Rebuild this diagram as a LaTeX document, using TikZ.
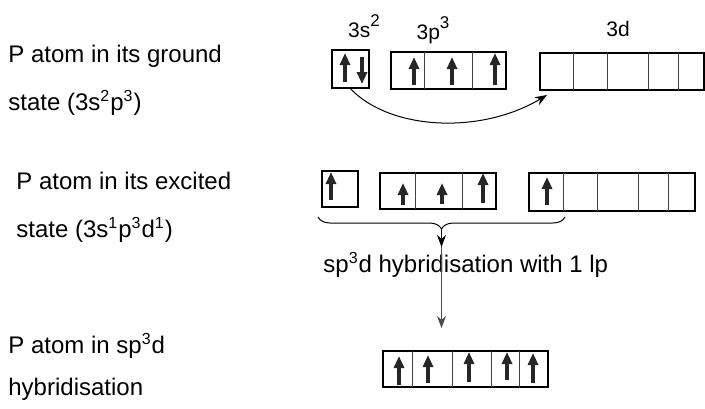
\documentclass[tikz,border=0pt]{standalone}
\usepackage{fontspec}
\setmainfont{Liberation Sans}
\usetikzlibrary{arrows.meta, decorations.pathreplacing, fit}

\newcommand{\hisup}[1]{\raisebox{0.5em}{\fontsize{8.5}{10}\selectfont #1}}

\tikzset{
  orb/.style={draw, line width=0.75pt, inner sep=0pt},
  cellline/.style={line width=0.5pt, black!75},
  spin/.style={line width=1.6pt, black!85, -{Triangle[length=6pt, width=5pt]}},
  conn/.style={line width=0.5pt, -{Stealth[length=6pt, width=4.5pt]}},
  lbl/.style={anchor=base west, inner sep=0pt, font=\fontsize{12}{14}\selectfont},
  shell/.style={anchor=base, inner sep=0pt, font=\fontsize{10.5}{12}\selectfont}
}

\begin{document}
\begin{tikzpicture}[x=0.5pt, y=-0.5pt]
    \useasboundingbox (0,0) rectangle (705,408);

    % Left hand labels
    \node[lbl] (gs1) at (8,62) {P atom in its ground};
    \node[lbl] (gs2) at (8,110) {state (3s\textsuperscript{2}p\textsuperscript{3})};
    \node[lbl] (ex1) at (16,189) {P atom in its excited};
    \node[lbl] (ex2) at (16,237) {state (3s\textsuperscript{1}p\textsuperscript{3}d\textsuperscript{1})};
    \node[lbl] (hy1) at (8,353) {P atom in sp\textsuperscript{3}d};
    \node[lbl] (hy2) at (8,395) {hybridisation};

    % Subshell labels
    \node[shell] (l3s) at (364,37) {3s\hisup{2}};
    \node[shell] (l3p) at (433,39) {3p\hisup{3}};
    \node[shell] (l3d) at (618,36) {3d};

    % Ground state boxes
    \node[orb, fit={(332,50) (369,88)}] (s1) {};
    \node[orb, fit={(391,52) (506,89)}] (p1) {};
    \node[orb, fit={(540,53) (704,90)}] (d1) {};
    \draw[cellline] (424,52) -- (424,89);
    \draw[cellline] (472,52) -- (472,89);
    \foreach \x in {573,607,648,678}
        \draw[cellline] (\x,53) -- (\x,90);
    \draw[spin] (345,82) -- (345,53);
    \draw[spin] (362,57) -- (362,84);
    \draw[spin] (414,85) -- (414,57);
    \draw[spin] (452,85) -- (452,57);
    \draw[spin] (495,85) -- (495,53);

    % Promotion of one 3s electron
    \coordinate (dtip) at (547,95);
    \draw[conn] (s1.south) .. controls (390,130) and (480,135) .. (dtip);

    % Excited state boxes
    \node[orb, fit={(322,171) (358,207)}] (s2) {};
    \node[orb, fit={(380,173) (496,209)}] (p2) {};
    \node[orb, fit={(529,173) (695,211)}] (d2) {};
    \draw[cellline] (415,173) -- (415,209);
    \draw[cellline] (462,173) -- (462,209);
    \foreach \x in {563,597,638,668}
        \draw[cellline] (\x,173) -- (\x,211);
    \draw[spin] (331,200) -- (331,172);
    \draw[spin] (403,205) -- (403,183);
    \draw[spin] (442,204) -- (442,183);
    \draw[spin] (483,203) -- (483,173);
    \draw[spin] (547,205) -- (547,177);

    % Brace over the five half filled orbitals
    \coordinate (brl) at (318,217);
    \coordinate (brr) at (565,217);
    \coordinate (brt) at (441.5,229);
    \draw[decorate, decoration={brace, mirror, amplitude=6pt}, line width=0.5pt] (brl) -- (brr);
    \node[lbl] (mix) at (323,272) {sp\textsuperscript{3}d hybridisation with 1 lp};
    \coordinate (hend) at (441.5,328);
    \draw[conn, black!70] (brt) -- (hend);
    \draw[conn] (brt) -- ++(0,18);

    % Hybrid orbitals
    \node[orb, fit={(383,351) (548,387)}] (h) {};
    \foreach \x in {412,452,491,519}
        \draw[cellline] (\x,351) -- (\x,387);
    \draw[spin] (399,385) -- (399,356);
    \draw[spin] (428,383) -- (428,355);
    \draw[spin] (469,382) -- (469,352);
    \draw[spin] (507,380) -- (507,352);
    \draw[spin] (533,383) -- (533,353);
\end{tikzpicture}
\end{document}
